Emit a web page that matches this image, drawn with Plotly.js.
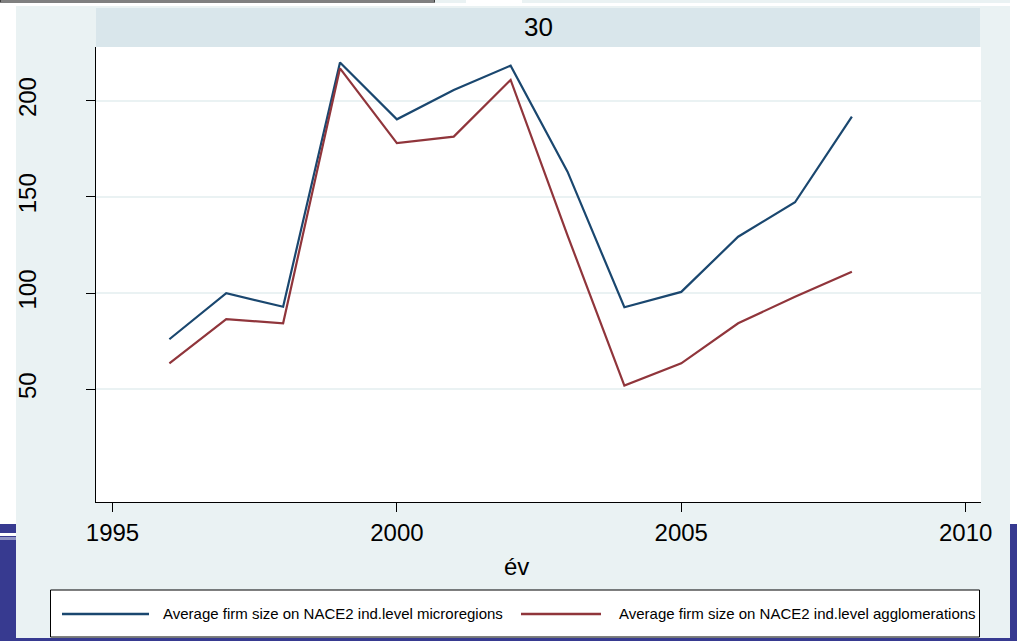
<!DOCTYPE html>
<html>
<head>
<meta charset="utf-8">
<script src="https://cdn.plot.ly/plotly-3.0.1.min.js"></script>
<style>
  html, body { margin: 0; padding: 0; background: #ffffff; }
  #chart { width: 1017px; height: 641px; }
</style>
</head>
<body>
<div id="chart"></div>
<script>
// ---- data ----
var years = [1996, 1997, 1998, 1999, 2000, 2001, 2002, 2003, 2004, 2005, 2006, 2007, 2008];
var microregions = [76.0, 99.9, 92.9, 219.8, 190.3, 205.6, 218.2, 163.1, 92.6, 100.6, 129.3, 147.2, 191.7];
var agglomerations = [63.5, 86.4, 84.3, 216.8, 177.9, 181.3, 210.8, 130.0, 51.9, 63.5, 84.3, 98.1, 111.1];
var seriesNames = [
  "Average firm size on NACE2 ind.level microregions",
  "Average firm size on NACE2 ind.level agglomerations"
];
var panelLabel = "30";
var xTitle = "év";
var xTicks = [1995, 2000, 2005, 2010];
var yTicks = [50, 100, 150, 200];

// ---- styling ----
var BLUE = "#1a476f";
var RED = "#90353b";
var BG = "#eaf2f3";
var STRIP = "#d9e6eb";
var FONT = "Liberation Sans, Arial, sans-serif";

var W = 1017, H = 641;
var L = 96, R = 981, T = 47, B = 502;
function px(x) { return (x - L) / (R - L); }
function py(y) { return (B - y) / (B - T); }

var traces = [
  { x: years, y: microregions, name: seriesNames[0], type: "scatter", mode: "lines",
    line: { color: BLUE, width: 2.2 }, showlegend: false, hoverinfo: "x+y" },
  { x: years, y: agglomerations, name: seriesNames[1], type: "scatter", mode: "lines",
    line: { color: RED, width: 2.2 }, showlegend: false, hoverinfo: "x+y" }
];

function rect(x0, y0, x1, y1, fill, lineColor, lw) {
  return { type: "rect", xref: "paper", yref: "paper", layer: "below",
    x0: px(x0), x1: px(x1), y0: py(y0), y1: py(y1),
    fillcolor: fill, line: { color: lineColor || fill, width: lw || 0 } };
}
function hline(x0, x1, y, color, w) {
  return { type: "line", xref: "paper", yref: "paper", layer: "above",
    x0: px(x0), x1: px(x1), y0: py(y), y1: py(y), line: { color: color, width: w } };
}

var shapes = [
  // screen artefacts around the graph
  rect(0, 524, 16, 641, "#373a90"),
  rect(0, 533, 16, 536, "#ffffff"),
  rect(0, 537, 16, 540, "#8f93c4"),
  rect(1010, 524, 1017, 641, "#373a90"),
  rect(0, 638, 1017, 641, "#373a90"),
  rect(0, 0, 435, 2, "#ffffff", "#000000", 1),
  rect(435, 0, 466, 3, BG),
  rect(522, 0, 1010, 3, BG),
  // graph region
  rect(16, 6, 1010, 638, BG),
  // strip
  rect(96, 8, 980, 47, STRIP),
  // plot region
  rect(96, 47, 981, 502, "#ffffff"),
  // legend box
  rect(50.5, 590, 979.5, 637, "#ffffff", "#000000", 1),
  hline(62, 149, 614, BLUE, 2.5),
  hline(521, 601, 614, RED, 2.5)
];

var annotations = [
  { text: panelLabel, xref: "paper", yref: "paper", x: 0.5, y: py(27), xanchor: "center", yanchor: "middle",
    showarrow: false, font: { family: FONT, size: 26, color: "#000" } },
  { text: xTitle, xref: "paper", yref: "paper", x: px(516), y: py(566), xanchor: "center", yanchor: "middle",
    showarrow: false, font: { family: FONT, size: 24, color: "#000" } },
  { text: seriesNames[0], xref: "paper", yref: "paper", x: px(161), y: py(613), xanchor: "left", yanchor: "middle",
    showarrow: false, font: { family: FONT, size: 15, color: "#000" } },
  { text: seriesNames[1], xref: "paper", yref: "paper", x: px(617), y: py(613), xanchor: "left", yanchor: "middle",
    showarrow: false, font: { family: FONT, size: 15, color: "#000" } }
];

var layout = {
  width: W, height: H,
  margin: { l: L, r: W - R, t: T, b: H - B, pad: 0 },
  paper_bgcolor: "#ffffff",
  plot_bgcolor: "rgba(0,0,0,0)",
  font: { family: FONT, color: "#000" },
  showlegend: false,
  xaxis: {
    range: [1994.71, 2010.27], tickmode: "array", tickvals: xTicks, ticktext: xTicks.map(String),
    ticks: "outside", ticklen: 9, tickwidth: 1, tickcolor: "#000",
    showline: true, linecolor: "#000", linewidth: 1, mirror: false,
    showgrid: false, zeroline: false,
    tickfont: { family: FONT, size: 24, color: "#000" }
  },
  yaxis: {
    range: [-8.6, 227.9], tickmode: "array", tickvals: yTicks, ticktext: yTicks.map(String),
    tickangle: -90,
    ticks: "outside", ticklen: 9, tickwidth: 1, tickcolor: "#000",
    showline: true, linecolor: "#000", linewidth: 1,
    showgrid: true, gridcolor: BG, gridwidth: 2, zeroline: false,
    ticklabelstandoff: 40,
    tickfont: { family: FONT, size: 24, color: "#000" }
  },
  shapes: shapes,
  annotations: annotations
};

Plotly.newPlot("chart", traces, layout, { displayModeBar: false, staticPlot: true });
</script>
</body>
</html>
